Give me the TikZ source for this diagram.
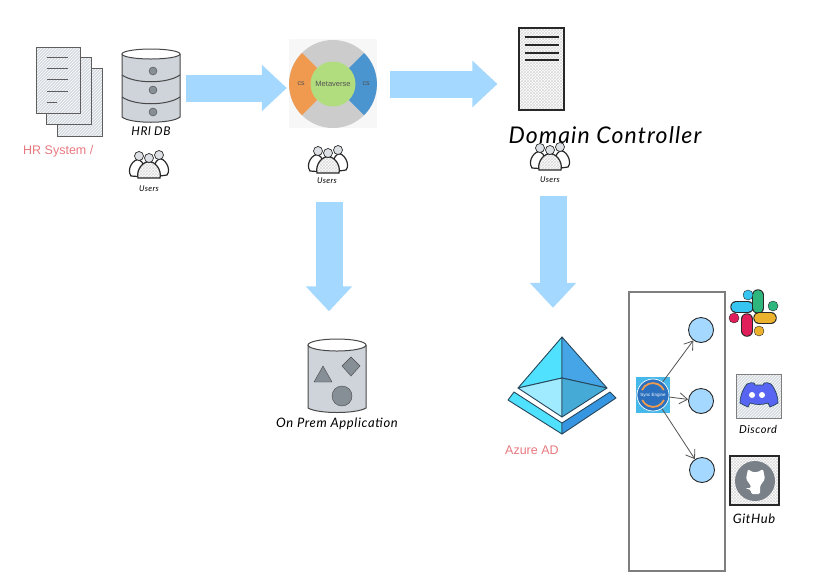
\documentclass[tikz,border=0pt]{standalone}
\usepackage{fontspec}
\setmainfont{Liberation Sans}
\newfontfamily\handfont[LetterSpace=5]{Lato Italic}
\usepackage{xcolor}
\usetikzlibrary{arrows.meta,positioning,patterns}
\definecolor{flowcol}{RGB}{165,216,255}
\definecolor{inkcol}{RGB}{40,40,40}
\definecolor{redcol}{RGB}{232,120,127}
\definecolor{stonecol}{RGB}{206,212,218}
\definecolor{slatecol}{RGB}{134,142,150}
\definecolor{ringcol}{RGB}{204,204,204}
\definecolor{orangecol}{RGB}{240,154,80}
\definecolor{bluecol}{RGB}{74,148,208}
\definecolor{greencol}{RGB}{178,221,126}
\definecolor{navycol}{RGB}{38,70,90}
\definecolor{azcyan}{RGB}{80,225,255}
\definecolor{azpale}{RGB}{160,235,255}
\definecolor{azmid}{RGB}{70,165,230}
\definecolor{azdeep}{RGB}{70,170,215}
\definecolor{azlow}{RGB}{55,150,225}
\definecolor{syncsky}{RGB}{70,184,234}
\definecolor{syncblue}{RGB}{42,112,190}
\definecolor{slackblue}{RGB}{54,197,240}
\definecolor{slackgreen}{RGB}{46,182,125}
\definecolor{slackred}{RGB}{224,30,90}
\definecolor{slackgold}{RGB}{236,178,46}
\definecolor{discordcol}{RGB}{88,101,242}

\begin{document}
\begin{tikzpicture}[x=1pt,y=-1pt,
    flow/.style={draw=flowcol, line width=27pt, -{Triangle[length=25pt,width=45pt,color=flowcol]}},
    sheet/.style={draw=inkcol!75, line width=1pt, preaction={fill=stonecol!85}, pattern=north east lines, pattern color=white},
    cross/.style={preaction={fill=white}, pattern=crosshatch, pattern color=gray!30},
    can/.style={draw=inkcol!85, line width=1pt, fill=stonecol},
    hand/.style={font=\handfont, text=black, inner sep=0pt},
    redlab/.style={font=\fontsize{12.5}{14}\selectfont, text=redcol, inner sep=0pt, anchor=west},
    userlab/.style={hand, font=\handfont\fontsize{8}{9}\selectfont},
    bubble/.style={circle, draw=inkcol, line width=0.9pt, fill=flowcol, minimum size=25pt, inner sep=0pt},
    link/.style={draw=inkcol!80, line width=0.8pt, -{Straight Barb[length=8pt,width=11pt]}},
    users/.pic={
        \draw[inkcol, line width=1.2pt, fill=white] (-18,-2) .. controls (-23,-9) and (-15,-20) .. (-10,-18) .. controls (-6,-18) and (-4,-8) .. (-4,-1) -- cycle;
        \draw[inkcol, line width=1.2pt, fill=white] (18,-3) .. controls (23,-9) and (15,-21) .. (10,-19) .. controls (6,-18) and (4,-8) .. (4,-1) -- cycle;
        \draw[inkcol, line width=1.2pt, cross] (-11,0) .. controls (-13,-8) and (-6,-17) .. (0,-16) .. controls (6,-17) and (13,-8) .. (11,0) -- cycle;
        \foreach \hx/\hy in {-10/-22,10/-23,0/-20} \draw[inkcol, line width=0.7pt, fill=stonecol!70] (\hx,\hy) circle (4.5);
    },
]
\useasboundingbox (0,0) rectangle (834,582);

\node[sheet, minimum width=45pt, minimum height=68pt, inner sep=0pt] (page3) at (79.5,102) {};
\node[sheet, minimum width=45pt, minimum height=67pt, inner sep=0pt] (page2) at (68.5,90.5) {};
\node[sheet, minimum width=44pt, minimum height=66pt, inner sep=0pt] (page1) at (58,80) {};
\foreach \ly/\lx in {57/68,68/68,79/68,91/68,102/57}
    \draw[inkcol!75, line width=0.8pt] (47,\ly) -- (\lx,\ly);
\node[redlab] (hrlab) at (23,151) {HR System /};

\node[minimum width=58pt, minimum height=73pt, inner sep=0pt] (hrdb) at (151,85.5) {};
\draw[can] (122,54) -- (122,117) .. controls (130,124) and (172,124) .. (180,117) -- (180,54);
\draw[inkcol!85, line width=1pt, fill=white] (151,54) ellipse (29 and 5);
\draw[inkcol!85, line width=1pt] (122,75) .. controls (135,84) and (167,84) .. (180,75);
\draw[inkcol!85, line width=1pt] (122,97) .. controls (135,106) and (167,106) .. (180,97);
\foreach \dy in {71,90,112}
    \draw[inkcol!85, fill=slatecol] (153,\dy) circle (4);
\node[hand, font=\handfont\fontsize{12}{14}\selectfont] (hrdblab) at (151,131) {HRl DB};
\pic at (149,178) {users};
\node[userlab] (users1) at (149,189) {Users};

\fill[black!3] (289,39) rectangle (377,128);
\node[circle, fill=ringcol, minimum size=88pt, inner sep=0pt] (ring) at (333,84) {};
\fill[orangecol] (333,84) -- (302,53) arc (225:135:44) -- cycle;
\fill[bluecol] (333,84) -- (364,53) arc (-45:45:44) -- cycle;
\node[circle, fill=greencol, minimum size=45pt, inner sep=0pt, text=inkcol!80, font=\fontsize{7.5}{9}\selectfont] (meta) at (333,84) {Metaverse};
\node[font=\fontsize{7}{8}\selectfont, text=inkcol!80, inner sep=0pt] (cs1) at (301,84) {cs};
\node[font=\fontsize{7}{8}\selectfont, text=inkcol!80, inner sep=0pt] (cs2) at (366,84) {cs};
\pic at (328,173) {users};
\node[userlab] (users2) at (327,181) {Users};

\node[draw=inkcol, line width=1.1pt, cross, minimum width=45pt, minimum height=82pt, inner sep=0pt] (server) at (541.5,69) {};
\foreach \ly in {37,45,53,60}
    \draw[inkcol, line width=1.2pt] (525,\ly) -- (559,\ly);
\node[hand, font=\handfont\fontsize{23}{26}\selectfont] (dclab) at (605,135) {Domain Controller};
\pic at (550,170) {users};
\node[userlab] (users3) at (550,180) {Users};

\node[minimum width=58pt, minimum height=73pt, inner sep=0pt] (app) at (337,376) {};
\draw[can] (308,345) -- (308,408) .. controls (318,414) and (356,414) .. (366,408) -- (366,345);
\draw[inkcol!85, line width=1pt, fill=white] (337,345) ellipse (29 and 6);
\draw[inkcol!85, fill=slatecol] (323,366) -- (332,382) -- (314,382) -- cycle;
\draw[inkcol!85, fill=slatecol] (351,357) -- (360,366) -- (351,376) -- (342,366) -- cycle;
\draw[inkcol!85, fill=slatecol] (342,396) circle (10);
\node[hand, font=\handfont\fontsize{13}{15}\selectfont] (applab) at (337,424) {On Prem Application};

\node[minimum width=108pt, minimum height=97pt, inner sep=0pt] (azure) at (562,385.5) {};
\begin{scope}[draw=navycol, line width=0.9pt, line join=round]
\filldraw[fill=azcyan] (562,337) -- (518,388) -- (562,378) -- cycle;
\filldraw[fill=azmid] (562,337) -- (607,388) -- (562,378) -- cycle;
\filldraw[fill=azpale] (518,388) -- (562,378) -- (562,417) -- cycle;
\filldraw[fill=azdeep] (607,388) -- (562,378) -- (562,417) -- cycle;
\filldraw[fill=azcyan] (508,400) -- (514,392) -- (562,423) -- (562,434) -- cycle;
\filldraw[fill=azlow] (616,398) -- (610,392) -- (562,423) -- (562,434) -- cycle;
\end{scope}
\node[redlab] (azlab) at (505,450) {Azure AD};

\node[draw=inkcol!60, line width=1.2pt, minimum width=96pt, minimum height=279pt, inner sep=0pt] (panel) at (677,431.5) {};

\fill[syncsky] (636,377) rectangle (670,413);
\node[circle, draw=white, line width=0.7pt, fill=syncblue, minimum size=32pt, inner sep=0pt] (sync) at (653,395) {};
\draw[orangecol, line width=1.8pt] (642,390) arc (205:335:12);
\draw[orangecol, line width=1.8pt] (664,400) arc (25:155:12);
\node[text=white, font=\fontsize{4.5}{5}\selectfont, inner sep=0pt] (synclab) at (653,395) {Sync Engine};
\node[bubble] (app1) at (701,330) {};
\node[bubble] (app2) at (701,401) {};
\node[bubble] (app3) at (702,470) {};
\draw[link] (sync) -- (app1);
\draw[link] (sync) -- (app2);
\draw[link] (sync) -- (app3);

\node[minimum width=48pt, minimum height=48pt, inner sep=0pt] (slack) at (753,313) {};
\foreach \ax/\ay/\bx/\by/\pc in {736/307/748/307/slackblue,758/295/758/308/slackgreen,747/319/747/331/slackred,759/318/771/318/slackgold}{
    \draw[inkcol, line width=11.5pt, line cap=round] (\ax,\ay) -- (\bx,\by);
    \draw[\pc, line width=9.7pt, line cap=round] (\ax,\ay) -- (\bx,\by);
}
\foreach \cx/\cy/\pc in {748/295/slackblue,773/306/slackgreen,734/318/slackred,759/331/slackgold}
    \draw[inkcol, fill=\pc] (\cx,\cy) circle (5);

\node[sheet, draw=inkcol!60, minimum width=45pt, minimum height=44pt, inner sep=0pt] (discord) at (758.5,396) {};
\filldraw[draw=navycol, line width=0.7pt, fill=discordcol] (747,384) .. controls (750,383) and (752,382) .. (754,383) -- (755,385) .. controls (757,385) and (761,385) .. (763,385) -- (764,383) .. controls (766,382) and (769,383) .. (771,384) .. controls (776,390) and (778,397) .. (778,403) .. controls (775,405) and (772,406) .. (770,407) -- (768,403) .. controls (762,405) and (756,405) .. (750,403) -- (748,407) .. controls (746,406) and (743,405) .. (740,403) .. controls (740,397) and (742,390) .. (747,384) -- cycle;
\fill[white] (752,395) circle (3) (762,395) circle (3);
\node[hand, font=\handfont\fontsize{11}{13}\selectfont] (discordlab) at (758,429) {Discord};

\node[draw=inkcol, line width=1.4pt, cross, minimum width=49pt, minimum height=49pt, inner sep=0pt] (github) at (754.5,480.5) {};
\fill[slatecol!90!black] (755,481) circle (20);
\fill[white, rounded corners=1.5pt] (748,469) -- (752,472) -- (758,472) -- (763,469) -- (765,479) -- (760,486) -- (760,494) -- (751,494) -- (751,490) -- (745,488) -- (751,488) -- (751,486) -- (746,479) -- cycle;
\node[hand, font=\handfont\fontsize{13}{15}\selectfont] (githublab) at (754,519) {GitHub};

\draw[flow, shorten <=6pt, shorten >=2pt] ([yshift=-2.5pt]hrdb.east) -- ([yshift=-4pt]ring.west);
\draw[flow, shorten <=13pt, shorten >=21pt] (ring.east) -- (ring.east -| server.west);
\draw[flow, shorten <=18pt, shorten >=28pt] ([xshift=2pt]users2.south) -- ([xshift=2pt]users2.south |- app.north);
\draw[flow, shorten <=13pt, shorten >=29pt] ([xshift=3pt]users3.south) -- ([xshift=3pt]users3.south |- azure.north);
\end{tikzpicture}
\end{document}
